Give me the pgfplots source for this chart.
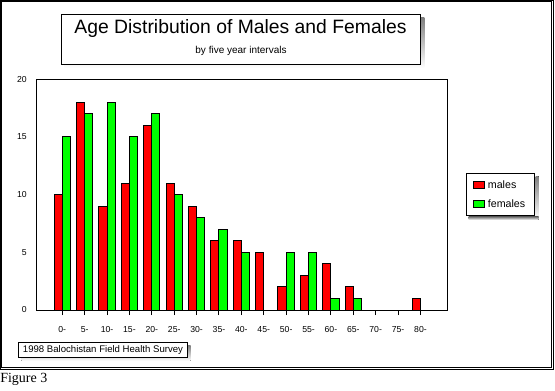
\documentclass[border=0pt]{standalone}
\usepackage{fontspec}
\setmainfont{Liberation Sans}
\newfontfamily\seriffont{Liberation Serif}
\usepackage{pgfplots}
\pgfplotsset{compat=1.18}
\definecolor{mred}{RGB}{255,0,0}
\definecolor{mgreen}{RGB}{0,255,0}
\definecolor{shade}{RGB}{128,128,128}

\begin{document}
\begin{tikzpicture}
\begin{scope}[x=0.75pt,y=-0.75pt]
\useasboundingbox (0,0) rectangle (555,391);
% outer frame
\draw[line width=0.75pt] (0.5,0.5) rectangle (553.5,369.8);
\draw[line width=0.75pt] (1.5,1.5) rectangle (551,367.5);
% title box
\fill[shade] (64.5,18) rectangle (424.3,68);
\draw[fill=white, line width=0.75pt] (61.3,14.9) rectangle (420.8,64.8);
\node[anchor=base, inner sep=0pt, font=\fontsize{14.5}{16}\selectfont] at (240.5,34) {Age Distribution of Males and Females};
\node[anchor=base, inner sep=0pt, font=\fontsize{7.5}{9}\selectfont] at (241,53.5) {by five year intervals};
% source box
\fill[shade] (21.3,345.7) rectangle (190.7,360.7);
\draw[fill=white, line width=0.75pt] (18.3,342.7) rectangle (187.7,357.7);
\node[inner sep=0pt, font=\fontsize{7.2}{8}\selectfont] at (103,350.2) {1998 Balochistan Field Health Survey};
% figure caption
\node[anchor=base west, inner sep=0pt, font=\seriffont\fontsize{10.5}{12}\selectfont] at (0,382.7) {Figure 3};
\end{scope}

\begin{axis}[
  at={(27.225pt,-232.5pt)}, anchor=south west,
  scale only axis, width=308.25pt, height=173pt,
  ybar=0pt, bar width=6.1pt,
  xmin=-1.16, xmax=17.2, ymin=0, ymax=20,
  xtick={0,...,16},
  xticklabels={0-,5-,10-,15-,20-,25-,30-,35-,40-,45-,50-,55-,60-,65-,70-,75-,80-},
  ytick={0,5,10,15,20},
  axis line style={line width=0.75pt},
  tick pos=left,
  x tick style={black, line width=0.75pt},
  major tick length=3.75pt,
  y tick style={draw=none},
  /pgf/number format/assume math mode=true,
  tick label style={font=\fontsize{6.5}{7}\selectfont},
  xticklabel style={inner sep=0pt, anchor=north, yshift=-8.6pt},
  yticklabel style={inner sep=0pt, anchor=east, xshift=-7pt},
  legend image code/.code={\draw[#1] (0pt,-2.6pt) rectangle (8.5pt,2.6pt);},
  legend cell align=left,
  legend style={at={(rel axis cs:1.0448,0.5925)}, anchor=north west,
    name=leg,
    draw=black, line width=0.75pt, fill=white,
    font=\fontsize{8}{9}\selectfont,
    inner xsep=5pt, inner ysep=3pt, row sep=3pt},
]
\addplot[fill=mred, draw=black, line width=0.75pt] coordinates {
 (0,10) (1,18) (2,9) (3,11) (4,16) (5,11) (6,9) (7,6) (8,6) (9,5)
 (10,2) (11,3) (12,4) (13,2) (16,1)};
\addplot[fill=mgreen, draw=black, line width=0.75pt] coordinates {
 (0,15) (1,17) (2,18) (3,15) (4,17) (5,10) (6,8) (7,7) (8,5)
 (10,5) (11,5) (12,1) (13,1)};
\legend{males, females}
\end{axis}
% legend shadow (outside the legend box)
\fill[shade] ([xshift=0.4pt,yshift=-2.25pt]leg.north east) rectangle ([xshift=2.65pt,yshift=-2.65pt]leg.south east);
\fill[shade] ([xshift=2.25pt,yshift=-0.4pt]leg.south west) rectangle ([xshift=2.65pt,yshift=-2.65pt]leg.south east);
\end{tikzpicture}
\end{document}
